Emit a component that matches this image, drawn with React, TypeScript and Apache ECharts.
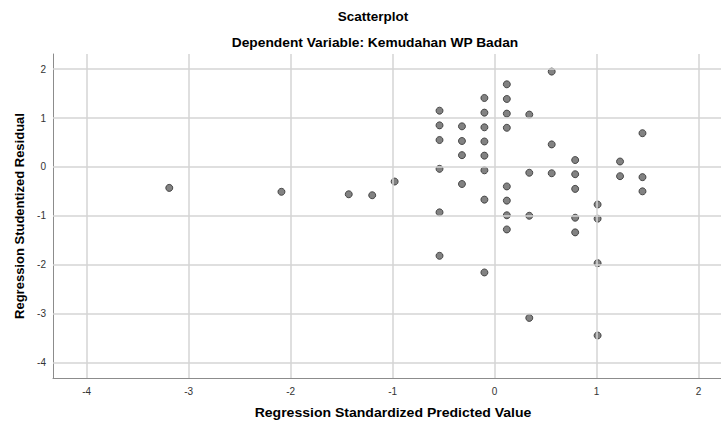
import React, { useEffect, useRef } from "react";
import * as echarts from "echarts";

const chartTitle = "Scatterplot";
const chartSubtitle = "Dependent Variable: Kemudahan WP Badan";
const xTitle = "Regression Standardized Predicted Value";
const yTitle = "Regression Studentized Residual";

const predicted = [
  -3.19, -2.09, -1.43, -1.2, -0.98,
  -0.54, -0.54, -0.54, -0.54, -0.54, -0.54,
  -0.32, -0.32, -0.32, -0.32,
  -0.1, -0.1, -0.1, -0.1, -0.1, -0.1, -0.1, -0.1,
  0.12, 0.12, 0.12, 0.12, 0.12, 0.12, 0.12, 0.12,
  0.34, 0.34, 0.34, 0.34,
  0.56, 0.56, 0.56,
  0.79, 0.79, 0.79, 0.79, 0.79,
  1.01, 1.01, 1.01, 1.01,
  1.23, 1.23,
  1.45, 1.45, 1.45,
];
const residual = [
  -0.43, -0.51, -0.56, -0.58, -0.3,
  1.15, 0.85, 0.55, -0.04, -0.93, -1.82,
  0.83, 0.53, 0.24, -0.35,
  1.41, 1.11, 0.81, 0.52, 0.23, -0.07, -0.67, -2.16,
  1.69, 1.39, 1.09, 0.8, -0.4, -0.69, -0.99, -1.28,
  1.07, -0.12, -1.0, -3.09,
  1.95, 0.46, -0.13,
  0.14, -0.15, -0.45, -1.04, -1.34,
  -0.77, -1.06, -1.97, -3.45,
  0.11, -0.19,
  0.69, -0.21, -0.5,
];
const xTicks = [-4, -3, -2, -1, 0, 1, 2];
const yTicks = [-4, -3, -2, -1, 0, 1, 2];

export default function App() {
  const ref = useRef<HTMLDivElement>(null);
  useEffect(() => {
    if (!ref.current) return;
    const chart = echarts.init(ref.current, null, { renderer: "svg" });
    const font = "'Liberation Sans', Arial, sans-serif";
    const points = predicted.map((x, i) => [x, residual[i]]);
    chart.setOption({
      animation: false,
      backgroundColor: "#ffffff",
      textStyle: { fontFamily: font },
      grid: { left: 53, top: 54, right: 0, bottom: 45, containLabel: false },
      xAxis: {
        type: "value",
        min: -4.33,
        max: 2.22,
        axisLine: { show: true, onZero: false, lineStyle: { color: "#8c8c8c", width: 1 } },
        axisTick: { show: false },
        axisLabel: {
          color: "#333",
          fontSize: 10,
          fontFamily: font,
          margin: 8,
          customValues: xTicks,
          formatter: (v: number) => String(v),
        },
        splitLine: { show: false },
      },
      yAxis: {
        type: "value",
        min: -4.32,
        max: 2.31,
        axisLine: { show: true, onZero: false, lineStyle: { color: "#8c8c8c", width: 1 } },
        axisTick: { show: false },
        axisLabel: {
          color: "#333",
          fontSize: 10,
          fontFamily: font,
          margin: 7,
          customValues: yTicks,
          formatter: (v: number) => String(v),
        },
        splitLine: { show: false },
      },
      series: [
        {
          type: "line",
          silent: true,
          symbol: "none",
          data: [],
          markLine: {
            silent: true,
            symbol: "none",
            label: { show: false },
            lineStyle: { color: "#d4d4d4", width: 1.5, type: "solid" },
            data: [
              ...xTicks.map((v) => ({ xAxis: v })),
              ...yTicks.map((v) => ({ yAxis: v })),
            ],
          },
        },
        {
          type: "scatter",
          data: points,
          symbol: "circle",
          symbolSize: 7,
          itemStyle: { color: "#636363", borderColor: "#2e2e2e", borderWidth: 1 },
        },
      ],
      graphic: [
        {
          type: "text",
          x: 373,
          y: 10,
          scaleX: 1.04,
          style: { text: chartTitle, font: `bold 13px ${font}`, fill: "#000", textAlign: "center" },
        },
        {
          type: "text",
          x: 375,
          y: 36,
          scaleX: 1.06,
          style: { text: chartSubtitle, font: `bold 13px ${font}`, fill: "#000", textAlign: "center" },
        },
        {
          type: "text",
          x: 393,
          y: 406,
          scaleX: 1.08,
          style: { text: xTitle, font: `bold 13px ${font}`, fill: "#000", textAlign: "center" },
        },
        {
          type: "text",
          x: 13,
          y: 216,
          rotation: Math.PI / 2,
          style: {
            text: yTitle,
            font: `bold 13px ${font}`,
            fill: "#000",
            textAlign: "center",
            textVerticalAlign: "top",
          },
        },
      ],
    });
    return () => chart.dispose();
  }, []);
  return <div ref={ref} style={{ width: 721, height: 423, position: "absolute", left: 0, top: 0 }} />;
}
